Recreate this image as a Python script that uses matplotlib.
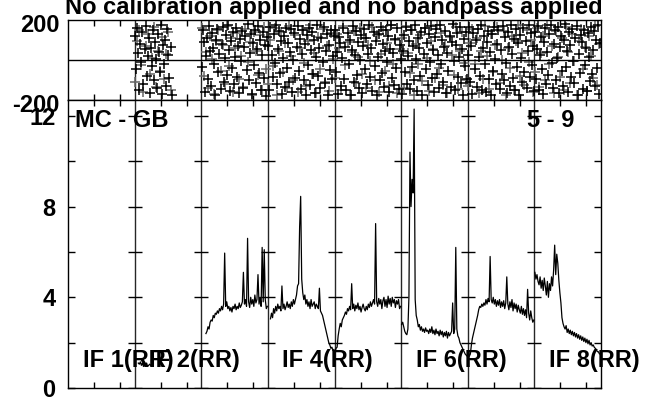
"""POSSM-style phase / amplitude spectrum plot, one panel per IF."""

import matplotlib.pyplot as plt
import matplotlib.transforms as mtransforms
import numpy as np

plt.rcParams["font.family"] = ["Liberation Sans", "DejaVu Sans"]
plt.rcParams["font.weight"] = "bold"

# ---- data ------------------------------------------------------------
n_chan = 64
n_if = 8
chan_ticks = [25, 50]
title = "No calibration applied and no bandpass applied"
baseline_label = "MC - GB"
time_label = "5 - 9"
if_labels = {1: "IF 1(RR)", 2: "IF 2(RR)", 4: "IF 4(RR)", 6: "IF 6(RR)", 8: "IF 8(RR)"}
amp_ticks = [0, 2, 4, 6, 8, 10, 12]
amp_ticklabels = ["0", "", "4", "", "8", "", "12"]
phase_ticks = [-200, 200]

# amplitude spectra: first channel with data, then the values
amp_start = {2: 3, 3: 4, 4: 2, 5: 0, 6: 0, 7: 0, 8: 0}
amp_if2 = [1.1, 1.05, 1.15, 1.0, 1.1, 0.95, 1.05, 1.0, 1.1, 0.95, 1.0, 1.05, 1.0]
amp_if3 = [2.4, 2.5, 2.7, 2.6, 2.9, 3.0, 2.95, 3.2, 3.1, 3.3, 3.25, 3.4, 3.3, 3.5,
           3.4, 3.6, 3.45, 3.7, 5.95, 3.6, 3.8, 3.5, 3.6, 3.4, 3.55, 3.35, 3.6, 3.5,
           3.7, 3.45, 3.6, 3.5, 3.75, 3.55, 3.65, 3.8, 5.1, 3.7, 3.9, 3.6, 6.6, 3.8,
           3.55, 4.0, 3.7, 3.9, 3.6, 4.1, 3.75, 3.9, 5.0, 3.7, 4.0, 3.6, 6.2, 3.8,
           6.1, 3.9, 3.5, 3.6]
amp_if4 = [3.05, 3.3, 3.1, 3.5, 3.3, 3.6, 3.4, 3.7, 3.5, 3.6, 3.4, 4.5, 3.5, 3.7,
           3.45, 3.6, 3.8, 3.55, 3.7, 3.5, 3.8, 3.6, 3.9, 3.7, 3.9, 4.1, 4.5, 4.6,
           7.1, 8.45, 4.8, 4.2, 3.9, 4.1, 3.7, 3.9, 3.6, 3.8, 3.5, 3.9, 3.6, 3.7,
           3.8, 3.5, 3.7, 3.6, 3.5, 4.4, 3.4, 3.3, 3.2, 3.0, 2.8, 2.6, 2.4, 2.2,
           2.0, 1.9, 1.75, 1.8, 1.65, 1.7]
amp_if5 = [1.6, 1.75, 1.8, 2.3, 2.6, 2.85, 2.7, 3.0, 3.1, 3.2, 3.35, 3.25, 3.5, 3.4,
           3.6, 3.45, 4.6, 3.5, 3.7, 3.4, 3.65, 3.5, 3.75, 3.45, 3.6, 3.35, 3.55, 3.7,
           3.5, 3.4, 3.6, 3.45, 3.7, 3.55, 3.8, 3.6, 3.75, 3.9, 3.7, 7.25, 3.8, 3.6,
           3.95, 3.7, 3.9, 3.5, 3.85, 4.0, 3.6, 3.9, 3.55, 4.05, 3.7, 3.95, 3.6, 4.0,
           3.75, 3.9, 3.55, 3.85, 3.7, 3.9, 3.5, 3.6]
amp_if6 = [2.8, 2.9, 2.7, 2.5, 2.4, 2.35, 2.6, 4.0, 10.4, 8.0, 9.2, 8.6, 12.3, 3.9,
           3.2, 3.0, 2.7, 2.8, 2.55, 2.7, 2.5, 2.6, 2.45, 2.65, 2.5, 2.55, 2.4, 2.6,
           2.45, 2.7, 2.4, 2.55, 2.35, 2.6, 2.4, 2.5, 2.3, 2.55, 2.35, 2.5, 2.25, 2.45,
           2.3, 2.5, 2.2, 2.45, 2.3, 2.4, 2.5, 3.75, 2.4, 2.6, 6.2, 2.6, 2.3, 2.2,
           2.0, 1.9, 1.8, 1.7, 1.6, 1.5, 1.45, 1.4]
amp_if7 = [1.6, 1.4, 1.5, 1.9, 2.2, 2.4, 2.6, 2.8, 3.0, 3.2, 3.45, 3.6, 3.55, 3.7,
           3.6, 3.75, 3.65, 3.9, 3.7, 3.95, 3.8, 5.8, 3.9, 3.75, 4.0, 3.7, 3.9, 3.6,
           3.85, 3.65, 3.9, 3.55, 3.8, 3.6, 3.85, 3.5, 3.75, 4.9, 3.7, 3.45, 3.8, 3.55,
           3.9, 3.4, 3.75, 3.5, 3.7, 3.35, 3.65, 3.45, 3.3, 3.6, 3.25, 3.5, 3.2, 3.45,
           3.1, 4.35, 3.3, 3.0, 3.4, 3.1, 2.9, 3.0]
amp_if8 = [5.1, 4.8, 5.0, 4.7, 4.55, 4.9, 4.4, 4.75, 4.3, 4.85, 4.5, 4.1, 4.7, 4.0,
           4.6, 4.3, 4.9, 4.5, 5.2, 6.3, 5.0, 5.9, 5.5, 4.75, 4.2, 3.75, 3.1, 2.85,
           2.7, 2.6, 2.75, 2.45, 2.6, 2.4, 2.55, 2.35, 2.5, 2.3, 2.45, 2.25, 2.4, 2.2,
           2.35, 2.15, 2.3, 2.1, 2.25, 2.05, 2.2, 2.0, 2.15, 1.95, 2.1, 1.9, 2.0, 1.85,
           1.9, 1.8, 1.75, 1.7, 1.6, 1.6, 1.5, 1.5]

# phases (deg): series A on every channel, series B on even channels
ph_if2_a = [120, -45, 160, 35, -150, 80, -10, 140, -120, 55, 170, -80, 20, 110, -165,
            60, -30, 150, -100, 90, 5, -140, 130, 40, -60, 175, -170, 75, -20, 100,
            -130, 155, 25, -90, 65, -175]
ph_if2_b = [-110, 95, 150, -25, -160, 70, 130, -70, 10, 165, -135, 45, -55, 115, -95,
            30, 140, -150]
ph_if3_a = [-35, 150, 90, -160, 20, 110, -95, 170, 45, -130, 135, 60, -20, -175, 100,
            155, -60, 30, -145, 80, 165, -110, 10, 125, -75, 175, 50, -155, 95, -40,
            140, -120, 15, 160, -85, 70, -165, 105, -5, 145, -140, 65, 120, -50, 178,
            -100, 35, 130, -170, 85, -25, 150, -115, 55, 168, -65, 100, -150, 25, 140,
            -90, 75, -178, 115]
ph_if3_b = [160, -80, 40, -140, 120, 5, -170, 95, 150, -55, 75, -120, 170, -30, 110,
            -160, 60, 135, -95, 20, -135, 155, -10, 90, -175, 140, 45, -75, 125, -150,
            165, -45]
ph_if4_a = [70, -150, 165, 25, -85, 130, -15, 175, -120, 55, 145, -65, 95, -170, 10,
            120, -135, 160, -40, 85, -110, 40, 155, -160, 0, 135, -90, 65, 170, -55,
            105, -145, 30, 150, -100, 80, -175, 125, -25, 160, -125, 50, 140, -70, 100,
            -165, 15, 175, -80, 60, -140, 110, -10, 165, -115, 45, 130, -175, 75, -50,
            150, -95, 20, 120]
ph_if4_b = [-120, 100, -30, 160, -175, 45, 140, -60, 85, -140, 170, 20, -100, 125,
            -160, 60, 150, -15, -130, 95, 175, -70, 35, -165, 115, -45, 155, -110, 70,
            -155, 135, 5]
ph_if5_a = [150, -60, 40, -170, 115, 85, -130, 10, 160, -95, 65, -150, 135, -20, 100,
            -175, 50, 170, -110, 25, 145, -75, 90, -140, 0, 125, -165, 70, 155, -45,
            110, -120, 30, 175, -85, 60, -155, 140, -30, 95, -175, 15, 130, -100, 165,
            -65, 80, -135, 45, 150, -10, 120, -160, 55, 175, -90, 35, -125, 105, -40,
            160, -145, 75, 5]
ph_if5_b = [-90, 130, 60, -150, 170, -25, 90, -175, 40, 145, -115, 15, 160, -70, 110,
            -140, 75, -5, 165, -100, 125, -160, 30, 150, -55, 85, -130, 175, -20, 100,
            -165, 55]
ph_if6_a = [-170, 45, 125, -60, 165, -120, 20, 95, -145, 150, -35, 70, -100, 175, 5,
            -155, 110, 60, -80, 140, -175, 30, 160, -45, 85, -125, 130, -10, 170, -90,
            50, -160, 115, 155, -70, 25, -140, 175, -20, 100, -110, 65, 145, -165, 35,
            -55, 120, -135, 90, 178, -5, -150, 75, 135, -85, 15, 165, -115, 55, -175,
            105, -30, 140, -95]
ph_if6_b = [110, -140, 170, 35, -65, 150, -175, 80, -20, 125, -105, 160, 10, -155, 95,
            55, -90, 175, -40, 135, -125, 70, -165, 115, 25, -75, 165, -145, 45, 140,
            -15, -100]
ph_if7_a = [25, 165, -110, 70, -170, 135, -45, 100, -135, 155, 15, -80, 175, -150, 60,
            120, -20, -160, 90, 145, -95, 40, -175, 130, -55, 165, 5, -120, 80, 150,
            -145, 50, -70, 170, -100, 115, -15, -165, 140, 65, -130, 175, 30, -90, 105,
            -150, 155, -35, 85, -175, 125, 10, -110, 160, -60, 95, -140, 45, 175, -85,
            135, -25, 70, -155]
ph_if7_b = [-130, 85, 155, -20, 110, -165, 45, -95, 170, 20, -145, 130, -60, 75, 165,
            -115, 0, 145, -175, 60, -40, 120, -150, 95, 175, -80, 35, -125, 150, -10,
            100, -160]
ph_if8_a = [140, -95, 55, 170, -150, 25, 115, -45, -170, 90, 160, -120, 40, -75, 130,
            175, -15, -140, 80, 150, -100, 10, 165, -165, 65, 120, -55, -130, 100, 178,
            -35, 45, -160, 140, 75, -85, 155, -5, -115, 110, 170, -175, 30, -65, 125,
            90, -145, 150, -25, 60, -155, 135, 15, -105, 165, -70, 50, 145, -130, 100,
            -40, 175, -170, 85]
ph_if8_b = [-60, 160, -135, 35, 120, -100, 175, -20, 70, -165, 145, 15, -85, 110, -150,
            165, 40, -115, 130, -5, -175, 95, 155, -45, 65, -155, 120, 20, -90, 170,
            -125, 80]

amp = {2: amp_if2, 3: amp_if3, 4: amp_if4, 5: amp_if5, 6: amp_if6, 7: amp_if7, 8: amp_if8}
phase_a = {2: ph_if2_a, 3: ph_if3_a, 4: ph_if4_a, 5: ph_if5_a, 6: ph_if6_a,
           7: ph_if7_a, 8: ph_if8_a}
phase_b = {2: ph_if2_b, 3: ph_if3_b, 4: ph_if4_b, 5: ph_if5_b, 6: ph_if6_b,
           7: ph_if7_b, 8: ph_if8_b}


def chan_x(if_num, chans):
    """Channel numbers of one IF -> position on the shared x axis."""
    return (if_num - 1) * n_chan + np.asarray(chans) + 0.5


# ---- figure ----------------------------------------------------------
W, H = 648, 397
fig = plt.figure(figsize=(W / 100, H / 100), dpi=100)
ax_ph = fig.add_axes([68 / W, 1 - 100 / H, 533 / W, 80 / H])
ax_amp = fig.add_axes([68 / W, 1 - 388 / H, 533 / W, 288 / H])

fs = 17
xmax = n_if * n_chan
xticks = [k * n_chan + t for k in range(n_if) for t in chan_ticks]
bounds = [k * n_chan for k in range(1, n_if)]

for ax in (ax_ph, ax_amp):
    ax.set_xlim(0, xmax)
    ax.set_xticks(xticks)
    ax.tick_params(axis="x", direction="in", top=True, bottom=True, length=4,
                   width=1, labelbottom=False)
    for b in bounds:
        ax.axvline(b, color="0.15", lw=1, zorder=1)
    for sp in ax.spines.values():
        sp.set_linewidth(1)

# phase panel
for k in phase_a:
    ax_ph.plot(chan_x(k, range(len(phase_a[k]))), phase_a[k], "+", color="k",
               ms=6.5, mew=1.1, zorder=3)
    ax_ph.plot(chan_x(k, range(0, 2 * len(phase_b[k]), 2)), phase_b[k], "+",
               color="0.4", ms=6.5, mew=1.1, zorder=2)
ax_ph.axhline(0, color="k", lw=1)
ax_ph.set_ylim(-200, 200)
ax_ph.set_yticks(phase_ticks)
ax_ph.set_yticklabels([str(v) for v in phase_ticks], fontsize=fs, fontweight="bold")
ax_ph.tick_params(axis="y", length=0, pad=6)
shift = mtransforms.ScaledTranslation(0, -3 / 100, fig.dpi_scale_trans)
for lab in ax_ph.get_yticklabels():
    lab.set_transform(lab.get_transform() + shift)

# amplitude panel
for k, vals in amp.items():
    start = amp_start[k]
    ax_amp.plot(chan_x(k, range(start, start + len(vals))), vals, color="k",
                lw=0.9, zorder=3)
ax_amp.set_ylim(0, 12.7)
ax_amp.set_yticks(amp_ticks)
ax_amp.set_yticklabels(amp_ticklabels, fontsize=fs, fontweight="bold")
ax_amp.tick_params(axis="y", direction="in", left=True, right=True, length=5,
                   width=1, pad=9)
for b in bounds:
    ax_amp.plot([b] * len(amp_ticks), amp_ticks, "_", color="k", ms=9.5, mew=1,
                zorder=2)

ax_amp.text(7, 11.5, baseline_label, fontsize=fs, fontweight="bold", va="baseline")
ax_amp.text(441, 11.5, time_label, fontsize=fs, fontweight="bold", va="baseline")
for k, lab in if_labels.items():
    ax_amp.text((k - 1) * n_chan + 14, 0.93, lab, fontsize=fs, fontweight="bold",
                va="baseline", clip_on=False, zorder=5)

fig.text(334 / W, 1 - 14 / H, title, ha="center", va="baseline", fontsize=fs,
         fontweight="bold")

fig.savefig("out.png", dpi=100)
